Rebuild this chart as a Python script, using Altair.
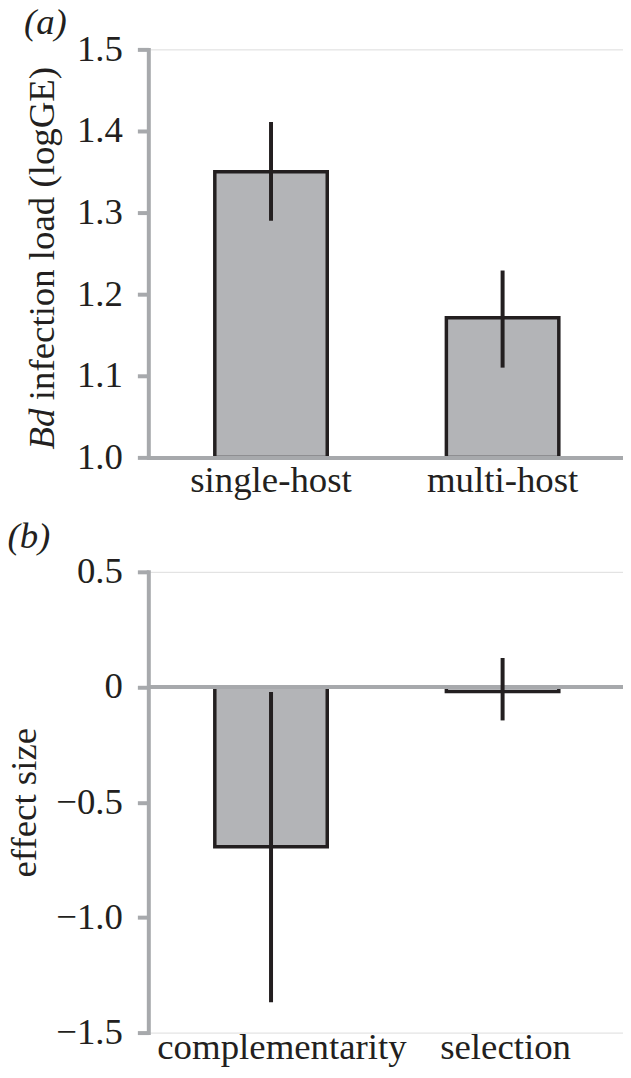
import altair as alt
import pandas as pd

# ---- data ----
hosts = ["single-host", "multi-host"]
load_mean = [1.350, 1.171]
load_lo = [1.290, 1.110]
load_hi = [1.411, 1.229]
load_ticks = [1.0, 1.1, 1.2, 1.3, 1.4, 1.5]

effects = ["complementarity", "selection"]
eff_mean = [-0.693, -0.020]
eff_lo = [-1.368, -0.145]
eff_hi = [-0.022, 0.126]
eff_ticks = [-1.5, -1.0, -0.5, 0.0, 0.5]

FONT = "Liberation Serif"
GREY = "#a7a9ac"
INK = "#231f20"
FILL = "#b3b4b7"
FS = 37
W = 478

dfa = pd.DataFrame({"group": hosts, "mean": load_mean, "lo": load_lo, "hi": load_hi})
dfb = pd.DataFrame({"group": effects, "mean": eff_mean, "lo": eff_lo, "hi": eff_hi})

band = dict(paddingInner=0.5144, paddingOuter=0.2843, align=0.505)

# ---------------- panel (a) ----------------
xa = alt.X("group:N", sort=hosts, scale=alt.Scale(**band),
           axis=alt.Axis(title=None, labelAngle=0, domain=True, domainColor=GREY,
                         domainWidth=4, ticks=False, labelPadding=5, labelLimit=400,
                         labelFont=FONT, labelFontSize=FS, labelColor=INK, zindex=1))
ya = alt.Y("mean:Q", scale=alt.Scale(domain=[1.0, 1.5], zero=False, nice=False),
           axis=alt.Axis(values=load_ticks, format=".1f", grid=False,
                         title="infection load (logGE)", titleX=-95, titleY=352,
                         titleAngle=270, titleAlign="left", titleBaseline="alphabetic",
                         titleFont=FONT, titleFontSize=FS, titleFontWeight="normal",
                         titleColor=INK, labelFont=FONT, labelFontSize=FS,
                         labelColor=INK, labelPadding=15, tickSize=11, tickWidth=4,
                         tickColor=GREY, domainColor=GREY, domainWidth=4,
                         domainCap="square", zindex=1))

base_a = alt.Chart(dfa)
bars_a = base_a.mark_bar(fill=FILL, stroke=INK, strokeWidth=3.5).encode(
    x=xa, y=ya, y2=alt.datum(1.0))
err_a = base_a.mark_rule(color=INK, strokeWidth=4).encode(
    x=alt.X("group:N", sort=hosts), y="lo:Q", y2="hi:Q")
bd_text = alt.Chart(pd.DataFrame({"t": ["Bd"]})).mark_text(
    font=FONT, fontSize=FS, fontStyle="italic", angle=270, align="left",
    baseline="alphabetic", color=INK).encode(
    text="t:N", x=alt.value(-95), y=alt.value(402))

panel_a = alt.layer(bars_a, err_a, bd_text).properties(
    width=W, height=410,
    title=alt.TitleParams("(a)", anchor="start", frame="bounds", font=FONT,
                          fontSize=FS, fontStyle="italic", fontWeight="normal",
                          color=INK, offset=-12))

# ---------------- panel (b) ----------------
xb = alt.X("group:N", sort=effects, scale=alt.Scale(**band),
           axis=alt.Axis(title=None, labelAngle=0, domain=False, ticks=False,
                         labelPadding=-3, labelLimit=400, labelFont=FONT,
                         labelFontSize=FS, labelColor=INK,
                         labelOffset={"condition": {"test": "datum.value == 'complementarity'",
                                                    "value": 11}, "value": 3}))
yb = alt.Y("mean:Q", scale=alt.Scale(domain=[-1.5, 0.5], zero=False, nice=False),
           axis=alt.Axis(values=eff_ticks, grid=False,
                         labelExpr="datum.value == 0 ? '0' : format(datum.value, '.1f')",
                         title="effect size", titleX=-113.6, titleBaseline="alphabetic",
                         titleFont=FONT, titleFontSize=FS, titleFontWeight="normal",
                         titleColor=INK, labelFont=FONT, labelFontSize=FS,
                         labelColor=INK, labelPadding=15, tickSize=11, tickWidth=4,
                         tickColor=GREY, domainColor=GREY, domainWidth=4,
                         domainCap="square", zindex=1))

base_b = alt.Chart(dfb)
bars_b = base_b.mark_bar(fill=FILL, stroke=INK, strokeWidth=3.5).encode(
    x=xb, y=yb, y2=alt.datum(0.0))
zero_b = base_b.mark_rule(color=GREY, strokeWidth=4).encode(y=alt.datum(0.0))
err_b = base_b.mark_rule(color=INK, strokeWidth=4).encode(
    x=alt.X("group:N", sort=effects), y="lo:Q", y2="hi:Q")

panel_b = alt.layer(bars_b, zero_b, err_b).properties(
    width=W, height=463,
    title=alt.TitleParams("(b)", anchor="start", frame="bounds", font=FONT,
                          fontSize=FS, fontStyle="italic", fontWeight="normal",
                          color=INK, offset=-3, dx=2))

chart = alt.vconcat(panel_a, panel_b, spacing=18).properties(
    padding={"left": -4, "top": -7, "right": -4, "bottom": -2}
).configure_view(stroke=None).configure(font=FONT, background="white")

chart.save("out.html", embed_options={"renderer": "svg", "actions": False})
